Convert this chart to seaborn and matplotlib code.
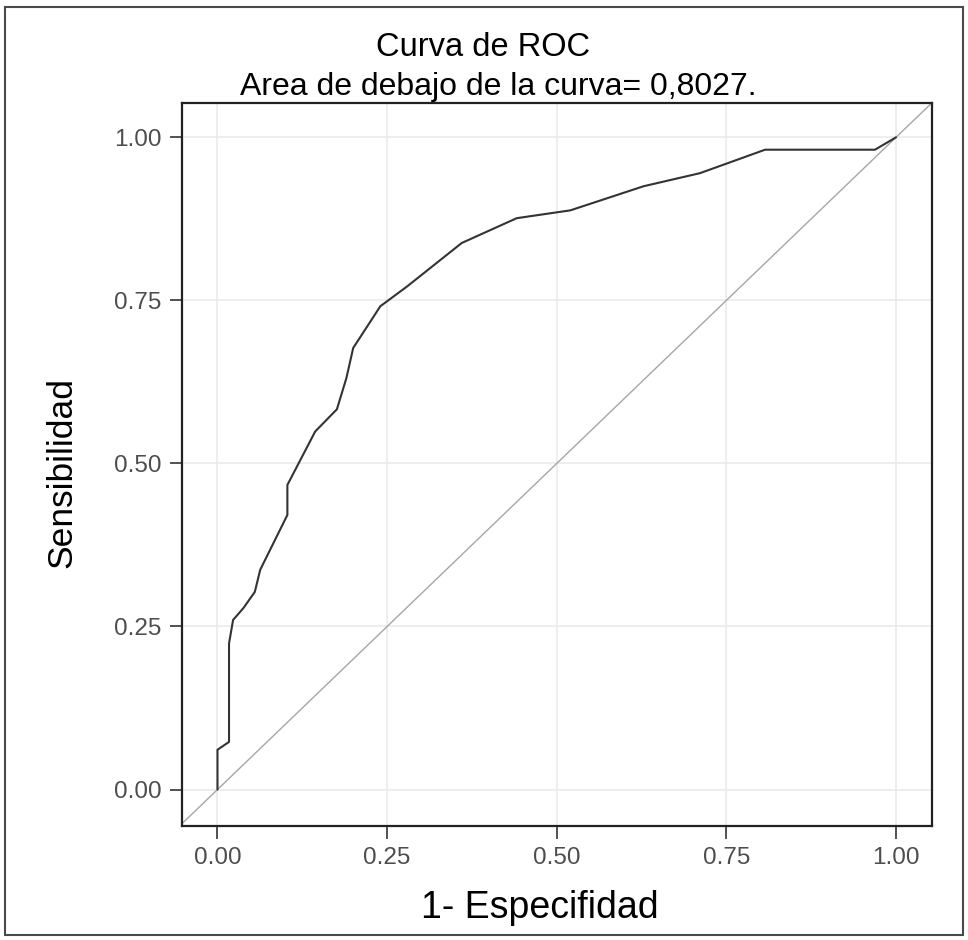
import matplotlib
matplotlib.use("Agg")
import matplotlib.pyplot as plt
import seaborn as sns
import pandas as pd
from matplotlib.patches import Rectangle

# ---- data ----
fpr = [0.000, 0.000, 0.017, 0.017, 0.023, 0.038, 0.055, 0.063, 0.103, 0.103,
       0.144, 0.176, 0.190, 0.200, 0.240, 0.279, 0.360, 0.441, 0.520, 0.628,
       0.711, 0.807, 0.969, 1.000]
tpr = [0.000, 0.061, 0.073, 0.224, 0.260, 0.278, 0.303, 0.337, 0.421, 0.467,
       0.549, 0.583, 0.631, 0.677, 0.741, 0.771, 0.838, 0.876, 0.888, 0.925,
       0.945, 0.981, 0.981, 1.000]
ticks = [0.00, 0.25, 0.50, 0.75, 1.00]
tick_labels = ["0.00", "0.25", "0.50", "0.75", "1.00"]
title = "Curva de ROC"
subtitle = "Area de debajo de la curva= 0,8027."
xlabel = "1- Especifidad"
ylabel = "Sensibilidad"

df = pd.DataFrame({"fpr": fpr, "tpr": tpr})

sns.set_theme(style="whitegrid")
plt.rcParams['font.family'] = ['Liberation Sans', 'DejaVu Sans']

fig = plt.figure(figsize=(9.68, 9.40), dpi=100)
fig.patch.set_facecolor("white")
ax = fig.add_axes([182/968, 1-826/940, (932-182)/968, (826-103)/940])
ax.set_facecolor("white")

ax.axline((0, 0), (1, 1), color="#a6a6a6", lw=1.0, zorder=2)
sns.lineplot(data=df, x="fpr", y="tpr", sort=False, estimator=None,
             color="#333333", lw=1.5, ax=ax, zorder=3)

ax.set_xlim(-0.0523, 1.053)
ax.set_ylim(-0.0559, 1.0526)
ax.set_xticks(ticks)
ax.set_xticklabels(tick_labels)
ax.set_yticks(ticks)
ax.set_yticklabels(tick_labels)
ax.grid(True, color="#ebebeb", lw=1.2)
for s in ax.spines.values():
    s.set_visible(True)
    s.set_color("#222222")
    s.set_linewidth(1.6)
ax.tick_params(axis="both", which="major", length=9, width=1.2, color="#333333",
               labelsize=17.5, labelcolor="#4d4d4d", pad=6, direction="out",
               bottom=True, left=True)
ax.set_xlabel("")
ax.set_ylabel("")

fig.text(483.5/968, 1-47/940, title, ha="center", va="center", fontsize=23.5, color="black")
fig.text(498.5/968, 1-87/940, subtitle, ha="center", va="center", fontsize=23, color="black")
fig.text(540/968, 1-908/940, xlabel, ha="center", va="center", fontsize=27, color="black")
fig.text(62/968, 1-473/940, ylabel, ha="center", va="center", rotation=90, fontsize=25.5, color="black")

# figure frame
fig.patches.append(Rectangle((5/968, 1-935/940), (963-5)/968, (935-7)/940,
                             transform=fig.transFigure, fill=False,
                             edgecolor="#4a4a4a", lw=1.5, zorder=0))

fig.savefig("out.png", dpi=100, facecolor="white")
